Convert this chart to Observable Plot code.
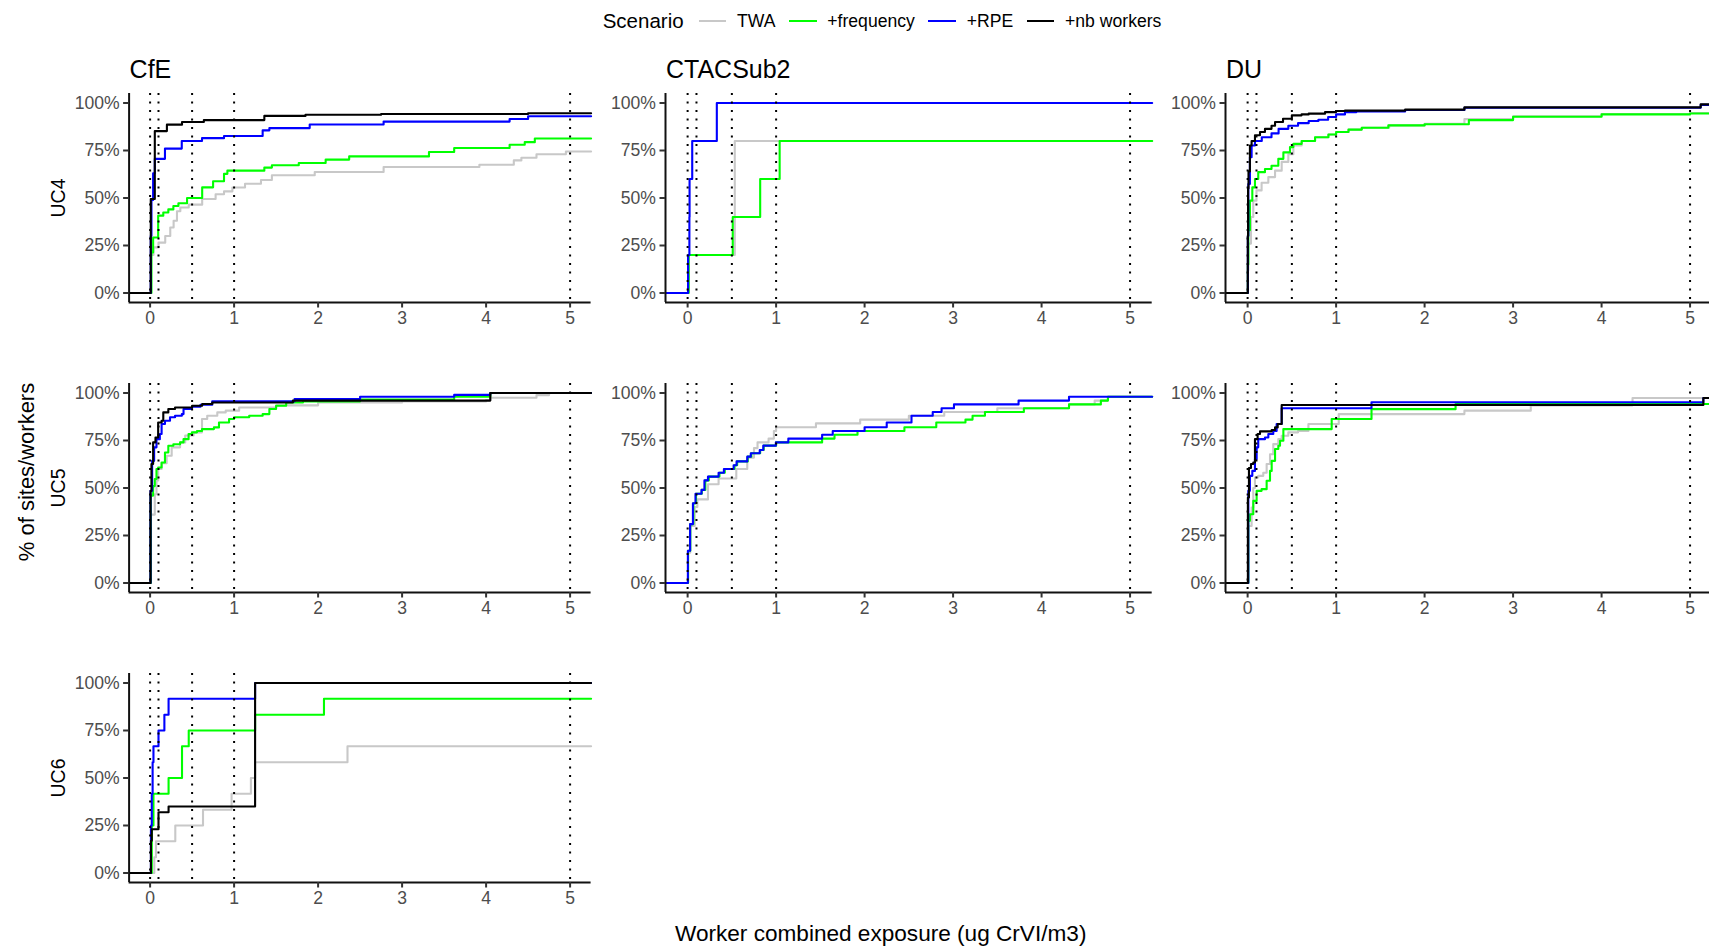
<!DOCTYPE html>
<html><head><meta charset="utf-8">
<script src="https://cdn.jsdelivr.net/npm/d3@7"></script>
<script src="https://cdn.jsdelivr.net/npm/@observablehq/plot@0.6"></script>
<style>
html,body{margin:0;padding:0;background:#fff;}
body{width:1709px;height:947px;overflow:hidden;position:relative;font-family:"Liberation Sans",Arial,Helvetica,sans-serif;color:#000;}
.panel{position:absolute;}
.panel svg{overflow:visible;background:transparent;max-width:none !important;display:block;}
#legend{position:absolute;left:602.7px;top:21px;transform:translateY(-50%);display:flex;align-items:center;white-space:nowrap;}
#legend .ttl{font-size:20.5px;margin-right:15px;}
#legend .key{display:inline-block;width:27.7px;height:2.2px;margin-right:10.7px;}
#legend .lab{font-size:17.6px;margin-right:13.5px;}
#xtitle{position:absolute;left:880.7px;top:922px;transform:translateX(-50%);font-size:22.6px;line-height:24px;white-space:nowrap;}
</style></head><body>
<div id="legend"></div>
<div id="xtitle"></div>
<script>
// ---------- categories / labels ----------
const scenarios = ["TWA", "+frequency", "+RPE", "+nb workers"];
const sites = ["CfE", "CTACSub2", "DU"];
const useCases = ["UC4", "UC5", "UC6"];
const legendTitle = "Scenario";
const xTitle = "Worker combined exposure (ug CrVI/m3)";
const yTitle = "% of sites/workers";
const xTicks = [0, 1, 2, 3, 4, 5];
const yTicks = [0, 0.25, 0.5, 0.75, 1];
const thresholds = [0, 0.1, 0.5, 1, 5];

// ---------- ECDF steps: [exposure, cumulative share] ----------
// CfE / UC4
const cfeUC4TWA = [[0.008,0.20],[0.04,0.24],[0.10,0.265],[0.18,0.30],[0.24,0.345],[0.28,0.38],[0.32,0.43],[0.36,0.45],[0.46,0.465],[0.62,0.495],[0.78,0.52],[0.88,0.535],[0.98,0.555],[1.13,0.575],[1.32,0.595],[1.45,0.62],[1.96,0.637],[2.78,0.663],[3.92,0.675],[4.33,0.698],[4.42,0.712],[4.60,0.73],[4.95,0.745]];
const cfeUC4Freq = [[0.016,0.213],[0.036,0.292],[0.096,0.407],[0.157,0.424],[0.217,0.44],[0.277,0.458],[0.337,0.472],[0.44,0.50],[0.62,0.556],[0.75,0.588],[0.88,0.627],[0.92,0.644],[1.36,0.66],[1.45,0.672],[1.77,0.684],[2.09,0.702],[2.37,0.719],[3.32,0.742],[3.62,0.763],[4.28,0.78],[4.46,0.794],[4.58,0.813]];
const cfeUC4RPE = [[0.008,0.30],[0.016,0.49],[0.036,0.63],[0.056,0.706],[0.177,0.76],[0.377,0.80],[0.618,0.815],[0.88,0.826],[1.34,0.856],[1.42,0.868],[1.90,0.887],[2.78,0.902],[4.28,0.916],[4.50,0.93]];
const cfeUC4Workers = [[0.008,0.495],[0.056,0.852],[0.20,0.886],[0.38,0.90],[0.64,0.91],[1.36,0.932],[1.85,0.938],[2.75,0.942],[4.50,0.946]];
// CTACSub2 / UC4
const ctacUC4TWA = [[0.012,0.2],[0.533,0.8]];
const ctacUC4Freq = [[0.012,0.2],[0.51,0.4],[0.82,0.6],[1.04,0.8]];
const ctacUC4RPE = [[0.005,0.2],[0.02,0.4],[0.022,0.6],[0.052,0.8],[0.33,1.0]];
// DU / UC4
const duUC4TWA = [[0.003,0.12],[0.008,0.26],[0.038,0.40],[0.064,0.486],[0.10,0.54],[0.158,0.58],[0.234,0.61],[0.31,0.644],[0.385,0.69],[0.46,0.73],[0.517,0.776],[0.611,0.80],[0.762,0.82],[0.913,0.834],[1.0,0.847],[1.14,0.86],[1.29,0.87],[1.6,0.882],[2.0,0.89],[2.45,0.915],[3.0,0.93],[4.0,0.942],[5.0,0.947]];
const duUC4Freq = [[0.003,0.15],[0.008,0.33],[0.026,0.486],[0.053,0.556],[0.083,0.60],[0.12,0.636],[0.196,0.653],[0.27,0.67],[0.347,0.706],[0.404,0.74],[0.479,0.768],[0.517,0.785],[0.611,0.80],[0.762,0.82],[0.913,0.834],[1.0,0.847],[1.14,0.86],[1.29,0.87],[1.59,0.882],[2.0,0.888],[2.5,0.91],[3.0,0.928],[4.0,0.94],[5.0,0.945]];
const duUC4RPE = [[0.003,0.30],[0.008,0.574],[0.026,0.715],[0.045,0.776],[0.083,0.80],[0.16,0.82],[0.27,0.84],[0.35,0.864],[0.46,0.88],[0.57,0.894],[0.69,0.905],[0.80,0.912],[0.91,0.926],[1.0,0.94],[1.1,0.952],[1.23,0.955],[1.78,0.963],[2.45,0.975],[5.12,0.99]];
const duUC4Workers = [[0.002,0.30],[0.005,0.55],[0.01,0.64],[0.026,0.776],[0.045,0.80],[0.083,0.83],[0.14,0.847],[0.196,0.864],[0.27,0.88],[0.31,0.90],[0.40,0.917],[0.50,0.935],[0.61,0.94],[0.69,0.944],[0.875,0.952],[1.0,0.958],[1.1,0.96],[1.78,0.965],[2.45,0.977],[5.12,0.993]];
// CfE / UC5
const cfeUC5TWA = [[0.008,0.36],[0.056,0.467],[0.076,0.54],[0.096,0.60],[0.137,0.63],[0.197,0.67],[0.257,0.714],[0.357,0.74],[0.418,0.776],[0.518,0.793],[0.618,0.863],[0.68,0.88],[0.80,0.898],[0.90,0.907],[1.06,0.924],[1.5,0.935],[2.0,0.95],[3.0,0.955],[4.0,0.963],[4.05,0.975],[4.6,0.989],[4.75,1.0]];
const cfeUC5Freq = [[0.008,0.46],[0.036,0.51],[0.056,0.547],[0.076,0.60],[0.096,0.608],[0.137,0.634],[0.177,0.687],[0.217,0.722],[0.277,0.73],[0.357,0.74],[0.398,0.757],[0.458,0.784],[0.498,0.793],[0.558,0.80],[0.618,0.81],[0.76,0.819],[0.82,0.845],[0.94,0.863],[1.0,0.872],[1.18,0.88],[1.34,0.889],[1.42,0.916],[1.5,0.933],[1.62,0.95],[1.82,0.956],[2.5,0.965],[3.62,0.98],[4.05,1.0]];
const cfeUC5RPE = [[0.005,0.485],[0.024,0.643],[0.048,0.714],[0.076,0.757],[0.116,0.784],[0.137,0.837],[0.177,0.854],[0.237,0.872],[0.297,0.88],[0.378,0.889],[0.398,0.916],[0.498,0.928],[0.60,0.938],[0.74,0.956],[1.72,0.968],[2.5,0.98],[3.62,0.99],[4.05,1.0]];
const cfeUC5Workers = [[0.005,0.485],[0.016,0.626],[0.036,0.74],[0.064,0.766],[0.096,0.845],[0.137,0.854],[0.157,0.898],[0.217,0.916],[0.297,0.924],[0.50,0.933],[0.62,0.942],[0.74,0.95],[1.70,0.96],[4.05,1.0]];
// CTACSub2 / UC5
const ctacUC5TWA = [[0.005,0.16],[0.03,0.30],[0.08,0.40],[0.11,0.44],[0.23,0.52],[0.35,0.55],[0.55,0.60],[0.674,0.66],[0.75,0.71],[0.79,0.74],[0.915,0.76],[0.975,0.80],[1.0,0.82],[1.45,0.84],[1.95,0.86],[2.5,0.88],[2.9,0.90],[3.5,0.92],[4.31,0.94],[4.6,0.96],[4.75,0.98]];
const ctacUC5Freq = [[0.005,0.17],[0.03,0.31],[0.065,0.42],[0.095,0.47],[0.16,0.49],[0.20,0.54],[0.24,0.56],[0.36,0.58],[0.42,0.60],[0.53,0.62],[0.56,0.64],[0.68,0.665],[0.72,0.683],[0.82,0.70],[0.86,0.723],[1.0,0.74],[1.52,0.76],[1.66,0.78],[1.92,0.80],[2.45,0.82],[2.81,0.845],[3.14,0.86],[3.22,0.88],[3.36,0.90],[3.8,0.92],[4.31,0.94],[4.67,0.96],[4.75,0.98]];
const ctacUC5RPE = [[0.003,0.17],[0.028,0.31],[0.06,0.42],[0.089,0.47],[0.157,0.49],[0.19,0.54],[0.23,0.56],[0.35,0.58],[0.41,0.60],[0.52,0.62],[0.553,0.64],[0.674,0.665],[0.714,0.683],[0.815,0.70],[0.855,0.723],[0.997,0.74],[1.138,0.76],[1.52,0.78],[1.64,0.80],[2.0,0.82],[2.25,0.845],[2.53,0.88],[2.77,0.90],[2.87,0.92],[3.01,0.94],[3.74,0.96],[4.31,0.98]];
// DU / UC5
const duUC5TWA = [[0.008,0.30],[0.045,0.397],[0.064,0.50],[0.083,0.555],[0.12,0.564],[0.177,0.58],[0.215,0.626],[0.253,0.678],[0.29,0.731],[0.347,0.757],[0.385,0.775],[0.46,0.793],[0.57,0.80],[0.687,0.837],[1.03,0.889],[2.45,0.907],[3.2,0.935],[4.35,0.974]];
const duUC5Freq = [[0.008,0.327],[0.026,0.362],[0.064,0.432],[0.102,0.485],[0.158,0.494],[0.215,0.538],[0.253,0.59],[0.272,0.643],[0.31,0.705],[0.347,0.722],[0.366,0.749],[0.404,0.81],[0.95,0.863],[1.40,0.915],[2.35,0.942]];
const duUC5RPE = [[0.008,0.485],[0.026,0.564],[0.053,0.59],[0.083,0.652],[0.102,0.714],[0.12,0.757],[0.196,0.766],[0.234,0.784],[0.29,0.80],[0.328,0.837],[0.385,0.92],[1.40,0.951],[5.15,0.974]];
const duUC5Workers = [[0.003,0.45],[0.015,0.605],[0.038,0.626],[0.064,0.634],[0.083,0.757],[0.113,0.784],[0.14,0.798],[0.272,0.805],[0.31,0.819],[0.34,0.837],[0.385,0.937],[5.15,0.974]];
// CfE / UC6
const cfeUC6TWA = [[0.05,0.083],[0.07,0.167],[0.30,0.25],[0.63,0.333],[0.97,0.417],[1.20,0.50],[1.25,0.583],[2.35,0.667]];
const cfeUC6Freq = [[0.02,0.25],[0.04,0.417],[0.22,0.50],[0.38,0.667],[0.46,0.75],[1.25,0.833],[2.07,0.917]];
const cfeUC6RPE = [[0.01,0.25],[0.02,0.417],[0.03,0.583],[0.04,0.667],[0.10,0.75],[0.17,0.833],[0.22,0.917],[1.25,1.0]];
const cfeUC6Workers = [[0.01,0.17],[0.02,0.23],[0.10,0.32],[0.22,0.35],[1.25,1.0]];

// ---------- panel table ----------
const panels = [
  {site: sites[0], uc: useCases[0], col: 0, row: 0, series: [cfeUC4TWA, cfeUC4Freq, cfeUC4RPE, cfeUC4Workers]},
  {site: sites[1], uc: useCases[0], col: 1, row: 0, series: [ctacUC4TWA, ctacUC4Freq, ctacUC4RPE, null]},
  {site: sites[2], uc: useCases[0], col: 2, row: 0, series: [duUC4TWA, duUC4Freq, duUC4RPE, duUC4Workers]},
  {site: sites[0], uc: useCases[1], col: 0, row: 1, series: [cfeUC5TWA, cfeUC5Freq, cfeUC5RPE, cfeUC5Workers]},
  {site: sites[1], uc: useCases[1], col: 1, row: 1, series: [ctacUC5TWA, ctacUC5Freq, ctacUC5RPE, null]},
  {site: sites[2], uc: useCases[1], col: 2, row: 1, series: [duUC5TWA, duUC5Freq, duUC5RPE, duUC5Workers]},
  {site: sites[0], uc: useCases[2], col: 0, row: 2, series: [cfeUC6TWA, cfeUC6Freq, cfeUC6RPE, cfeUC6Workers]}
];

// ---------- styling / layout ----------
const scenarioColors = ["#C8C8C8", "#00FF00", "#0000FF", "#000000"];
const xDomain = [-0.25, 5.25];
const yDomain = [-0.05, 1.05];
const colLeft = [128.6, 664.7, 1225.4];
const colWidth = [462, 486.7, 486.7];
const rowTop = [92.8, 382.8, 672.8];
const panelH = 209;
const mT = 45, mB = 45, mR = 15, mLOther = 75;
const FONT = '"Liberation Sans", Arial, Helvetica, sans-serif';

function stepData(steps, scen) {
  const pts = [{x: xDomain[0], y: 0, s: scen}];
  for (const [x, y] of steps) pts.push({x, y, s: scen});
  pts.push({x: xDomain[1], y: steps[steps.length - 1][1], s: scen});
  return pts;
}

for (const p of panels) {
  const mL = p.col === 0 ? colLeft[0] : mLOther;
  const W = mL + colWidth[p.col] + mR, H = mT + panelH + mB;
  const marks = [];
  p.series.forEach((steps, i) => {
    if (!steps) return;
    marks.push(Plot.line(stepData(steps, scenarios[i]), {x: "x", y: "y", stroke: "s", curve: "step-after", strokeWidth: 2.1}));
  });
  marks.push(Plot.ruleX(thresholds, {stroke: "#000", strokeWidth: 2, strokeDasharray: "2.1,6.4"}));
  marks.push(Plot.ruleX([xDomain[0]], {stroke: "#111", strokeWidth: 2}));
  marks.push(Plot.ruleY([yDomain[0]], {stroke: "#111", strokeWidth: 2}));
  marks.push(Plot.axisX({ticks: xTicks, tickFormat: d => String(d), tickSize: 5.5, tickPadding: 4, fontSize: 17.6, label: null, stroke: "#333", strokeWidth: 2, fill: "#4D4D4D"}));
  marks.push(Plot.axisY({ticks: yTicks, tickFormat: d => `${Math.round(d * 100)}%`, tickSize: 5.5, tickPadding: 4, fontSize: 17.6, label: null, stroke: "#333", strokeWidth: 2, fill: "#4D4D4D"}));
  if (p.row === 0) {
    marks.push(Plot.text([p.site], {text: d => d, frameAnchor: "top-left", textAnchor: "start", lineAnchor: "bottom", dx: 0.5, dy: -16, fontSize: 25, fill: "#000"}));
  }
  if (p.col === 0) {
    marks.push(Plot.text([p.uc], {text: d => d, frameAnchor: "left", textAnchor: "middle", rotate: -90, dx: 58 - colLeft[0], fontSize: 19.5, fill: "#000"}));
    if (p.row === 1) {
      marks.push(Plot.text([yTitle], {text: d => d, frameAnchor: "left", textAnchor: "middle", rotate: -90, dx: 26 - colLeft[0], dy: -16, fontSize: 22, fill: "#000"}));
    }
  }
  const svg = Plot.plot({
    width: W, height: H,
    marginLeft: mL, marginRight: mR, marginTop: mT, marginBottom: mB,
    x: {domain: xDomain},
    y: {domain: yDomain},
    color: {domain: scenarios, range: scenarioColors},
    style: {fontFamily: FONT, background: "transparent", overflow: "visible"},
    marks
  });
  svg.style.width = W + "px";
  svg.style.height = H + "px";
  const div = document.createElement("div");
  div.className = "panel";
  div.style.left = (colLeft[p.col] - mL) + "px";
  div.style.top = (rowTop[p.row] - mT) + "px";
  div.style.width = W + "px";
  div.style.height = H + "px";
  div.appendChild(svg);
  document.body.appendChild(div);
}

// ---------- legend ----------
const legend = document.getElementById("legend");
const t = document.createElement("span"); t.className = "ttl"; t.textContent = legendTitle; legend.appendChild(t);
scenarios.forEach((s, i) => {
  const k = document.createElement("span"); k.className = "key"; k.style.background = scenarioColors[i]; legend.appendChild(k);
  const l = document.createElement("span"); l.className = "lab"; l.textContent = s; legend.appendChild(l);
});
document.getElementById("xtitle").textContent = xTitle;
</script>
</body></html>
